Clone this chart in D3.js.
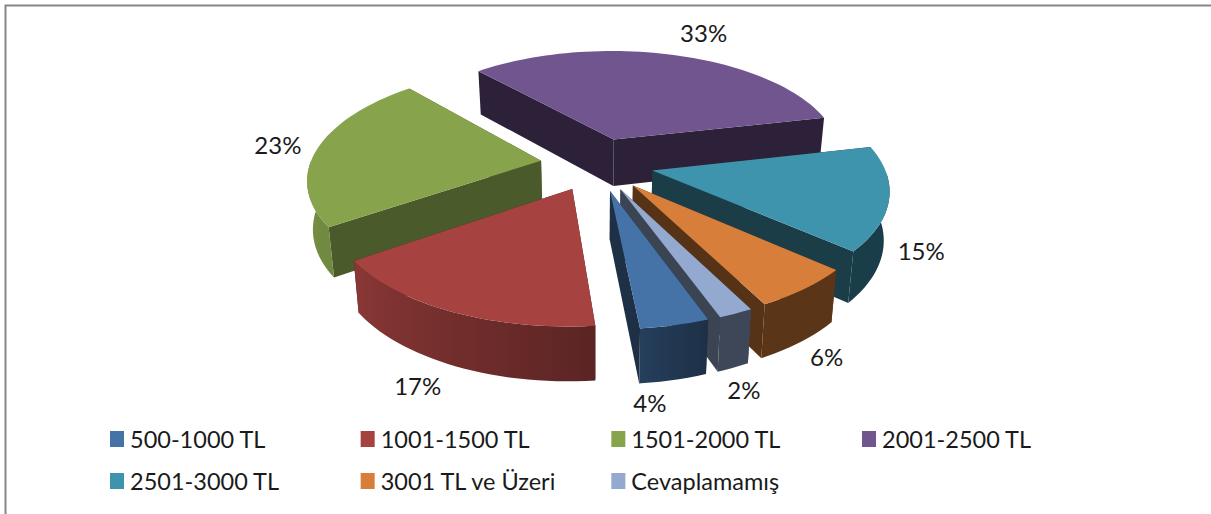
<!DOCTYPE html>
<html>
<head>
<meta charset="utf-8">
<script src="https://cdn.jsdelivr.net/npm/d3@7"></script>
<style>
    html, body { margin: 0; padding: 0; background: #fff; }
    svg { display: block; }
    text { font-family: Lato, "Open Sans", sans-serif; fill: #1a1a1a; }
</style>
</head>
<body>
<div id="result"></div>
<script>
    // chart data
    const categories = ["500-1000 TL", "1001-1500 TL", "1501-2000 TL", "2001-2500 TL", "2501-3000 TL", "3001 TL ve Üzeri", "Cevaplamamış"];
    const values = [4, 17, 23, 33, 15, 6, 2];
    const colors = ["#4572a7", "#a64341", "#87a44c", "#71558f", "#3f94ad", "#d77f3a", "#93a9cf"];

    const width = 1211, height = 514;
    const center = { x: 597, y: 164 };
    const radius = 231, tilt = 0.47, persp = 0.15;   // unit pie -> screen
    const explode = 0.245, thick = 47.5, converge = 0.98;

    // back to front, otherwise the walls end up over the neighbour's top
    const drawOrder = [3, 2, 4, 1, 5, 6, 0];
    // flat cut walls, how dark per slice
    const cutShade = [0.42, 0.42, 0.55, 0.39, 0.41, 0.4, 0.4];
    // label offset from the middle of the slice's outer edge
    const labelNudge = [[-25, 77], [-33, 74], [-40, -3], [32, -22], [32, 52], [22, 68], [8, 76]];

    const svg = d3.select("#result").append("svg")
        .attr("width", width)
        .attr("height", height);

    const defs = svg.append("defs");

    // frame of the pasted chart, only top and left are visible
    svg.append("path")
        .attr("d", d3.line()([[5.5, height], [5.5, 5.5], [width, 5.5]]))
        .attr("fill", "none")
        .attr("stroke", "#868686")
        .attr("stroke-width", 2);

    const pie = d3.pie().sort(null)
        .startAngle(160 * Math.PI / 180)
        .endAngle((160 + 360) * Math.PI / 180);
    const slices = pie(values);

    // arc wall gets lighter to the left of the pie
    const arcShade = d3.scaleLinear()
        .domain([90, 160, 175, 235, 270])
        .range([0.42, 0.42, 0.55, 0.83, 0.93])
        .clamp(true);

    function project(ang, r, mid, bottom) {
        const X = r * Math.sin(ang) + explode * Math.sin(mid);
        const Y = -r * Math.cos(ang) - explode * Math.cos(mid);
        const w = 1 / (1 - persp * Y);
        let x = radius * X * w;
        let y = radius * tilt * Y * w;
        if (bottom) {
            x = x * converge;
            y = y * converge + thick * w;
        }
        return [center.x + x, center.y + y];
    }

    function darken(color, f) {
        const c = d3.rgb(color);
        return d3.rgb(c.r * f, c.g * f, c.b * f).formatHex();
    }

    const line = d3.line();
    const STEP = 2 * Math.PI / 180;

    const pieG = svg.append("g");

    drawOrder.forEach(function (i) {
        const d = slices[i];
        const mid = (d.startAngle + d.endAngle) / 2;
        const g = pieG.append("g").attr("class", "slice");

        // the two cut walls
        [d.startAngle, d.endAngle].forEach(function (a) {
            const pts = [project(0, 0, mid, false), project(a, 1, mid, false),
                         project(a, 1, mid, true), project(0, 0, mid, true)];
            g.append("path")
                .attr("d", line(pts) + "Z")
                .attr("fill", darken(colors[i], cutShade[i]));
        });

        const angles = d3.range(d.startAngle, d.endAngle, STEP).concat([d.endAngle]);

        // outer wall, only the part that faces the viewer
        const front = angles.filter(a => Math.cos(a) < 0);
        if (front.length > 1) {
            const xs = front.map(a => project(a, 1, mid, false)[0]);
            const x0 = d3.min(xs), x1 = d3.max(xs);
            const grad = defs.append("linearGradient")
                .attr("id", "wall" + i)
                .attr("gradientUnits", "userSpaceOnUse")
                .attr("x1", x0).attr("x2", x1)
                .attr("y1", 0).attr("y2", 0);
            front.map((a, j) => ({ off: (xs[j] - x0) / (x1 - x0), a: a }))
                .sort((p, q) => p.off - q.off)
                .forEach(function (s) {
                    grad.append("stop")
                        .attr("offset", s.off)
                        .attr("stop-color", darken(colors[i], arcShade((s.a * 180 / Math.PI) % 360)));
                });
            const outline = front.map(a => project(a, 1, mid, false))
                .concat(front.slice().reverse().map(a => project(a, 1, mid, true)));
            g.append("path")
                .attr("d", line(outline) + "Z")
                .attr("fill", "url(#wall" + i + ")");
        }

        // top
        const top = [project(0, 0, mid, false)].concat(angles.map(a => project(a, 1, mid, false)));
        g.append("path")
            .attr("d", line(top) + "Z")
            .attr("fill", colors[i]);
    });

    // percent labels
    svg.append("g").selectAll("text")
        .data(slices)
        .enter()
        .append("text")
        .attr("x", (d, i) => project((d.startAngle + d.endAngle) / 2, 1, (d.startAngle + d.endAngle) / 2, false)[0] + labelNudge[i][0])
        .attr("y", (d, i) => project((d.startAngle + d.endAngle) / 2, 1, (d.startAngle + d.endAngle) / 2, false)[1] + labelNudge[i][1])
        .attr("text-anchor", "middle")
        .attr("dominant-baseline", "central")
        .style("font-size", "24px")
        .text(d => d.data + "%");

    // legend, 4 columns and 2 rows
    const legendX = d3.scaleLinear().domain([0, 3]).range([110, 862]);
    const legendY = d3.scaleLinear().domain([0, 1]).range([439, 481]);

    const legend = svg.append("g").selectAll("g")
        .data(categories)
        .enter()
        .append("g")
        .attr("transform", (d, i) => `translate(${legendX(i % 4)},${legendY(Math.floor(i / 4))})`);

    legend.append("rect")
        .attr("y", -8)
        .attr("width", 14)
        .attr("height", 16)
        .attr("fill", (d, i) => colors[i]);

    legend.append("text")
        .attr("x", 20)
        .attr("dominant-baseline", "central")
        .style("font-size", "23.5px")
        .text(d => d);
</script>
</body>
</html>
